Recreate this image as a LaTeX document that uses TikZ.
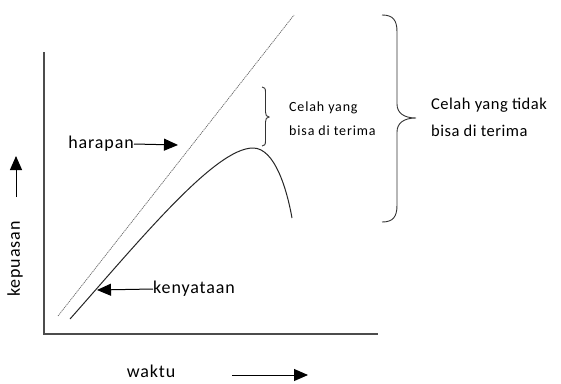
\documentclass[tikz,border=0pt]{standalone}
\usepackage{fontspec}
\setmainfont{Carlito}
\usetikzlibrary{arrows.meta}
\begin{document}
\begin{tikzpicture}[x=1pt,y=1pt,
  axis/.style={draw=black!70,line width=1.5pt},
  lbl/.style={inner sep=0pt,font=\fontsize{18}{20}\selectfont\addfontfeature{LetterSpace=5}},
  ptr/.style={draw=black,line width=1pt,-{Triangle[length=14pt,width=12pt]}},
  brc/.style={draw=black!80,line width=0.9pt}]
\useasboundingbox (0,0) rectangle (561,-383);
% axes
\coordinate (O) at (44,-334);
\coordinate (Ytop) at (44,-52);
\coordinate (Xend) at (378,-334);
\draw[axis] (Ytop) -- (O) -- (Xend);
% expectation line
\coordinate (h0) at (58,-316);
\coordinate (h1) at (294,-15);
\draw[black!60,line width=0.7pt,dash pattern=on 1.2pt off 0.8pt] (h0) -- (h1);
% reality curve
\coordinate (k0) at (70,-319);
\coordinate (kp) at (253,-148);
\coordinate (k1) at (292,-218);
\draw[black!85,line width=1pt] (k0) .. controls (140,-240) and (215,-148) .. (kp)
  .. controls (275,-148) and (287,-190) .. (k1);
% labels
\node[lbl,anchor=east] (har) at (134,-144) {harapan};
\coordinate (harT) at (178,-145);
\draw[ptr] (har.east) -- (harT);
\node[lbl,anchor=west] (ken) at (153,-289) {kenyataan};
\coordinate (kenT) at (97,-290);
\draw[ptr] (ken.west) -- (kenT);
\node[lbl] (wak) at (151,-371) {waktu};
\coordinate (w0) at (232,-375);
\coordinate (w1) at (308,-375);
\draw[ptr] (w0) -- (w1);
\node[lbl,rotate=90] (kep) at (15,-259) {kepuasan};
\coordinate (y0) at (16,-197);
\coordinate (y1) at (16,-156);
\draw[ptr] (y0) -- (y1);
% small brace
\draw[brc] (262,-87) .. controls (264.5,-87) and (265.5,-88.5) .. (265.5,-92) -- (265.5,-112)
  .. controls (265.5,-115) and (266.5,-117) .. (269,-117)
  .. controls (266.5,-117) and (265.5,-119) .. (265.5,-122) -- (265.5,-141)
  .. controls (265.5,-144.5) and (264.5,-146) .. (262,-146);
\node[inner sep=0pt,anchor=west,align=left,font=\fontsize{14}{24}\selectfont\addfontfeature{LetterSpace=6}] (small) at (289,-119) {Celah yang\\bisa di terima};
% big brace
\draw[brc] (382,-15) .. controls (393,-15) and (397,-20) .. (397,-32) -- (397,-104)
  .. controls (397,-113) and (404,-118) .. (416,-118)
  .. controls (404,-118) and (397,-123) .. (397,-132) -- (397,-205)
  .. controls (397,-217) and (393,-222) .. (382,-222);
\node[inner sep=0pt,anchor=west,align=left,font=\fontsize{16.5}{27}\selectfont\addfontfeature{LetterSpace=3}] (big) at (431,-117) {Celah yang tidak\\bisa di terima};
\end{tikzpicture}
\end{document}
